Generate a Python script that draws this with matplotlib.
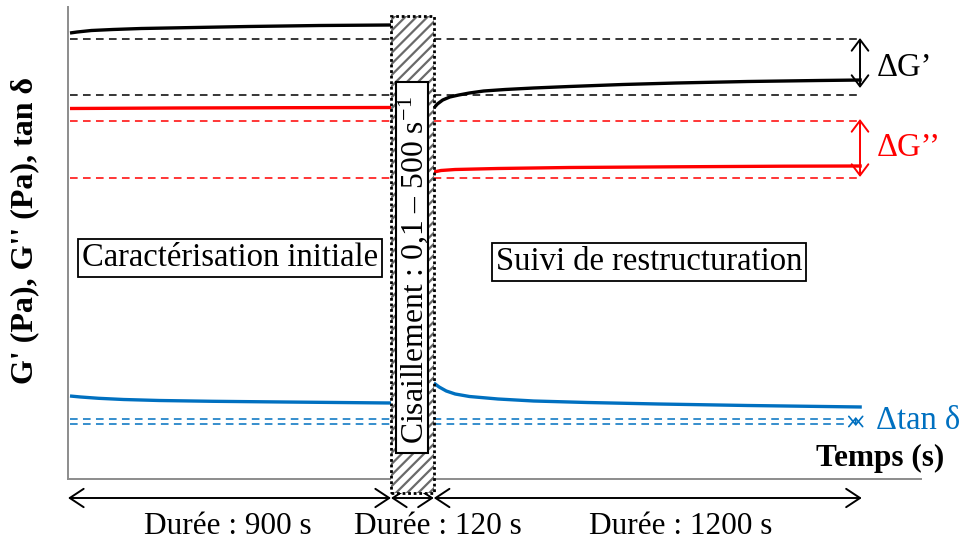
import matplotlib
matplotlib.use("Agg")
import matplotlib.pyplot as plt
from matplotlib.patches import Rectangle

plt.rcParams['font.family'] = ['Liberation Serif', 'DejaVu Serif']
plt.rcParams['mathtext.fontset'] = 'custom'
plt.rcParams['mathtext.rm'] = 'Liberation Serif'
plt.rcParams['mathtext.default'] = 'regular'
plt.rcParams['hatch.linewidth'] = 1.6

# ---- phases (s) ----
phase_bounds = [0, 900, 1020, 2220]
phase_labels = ["Durée : 900 s", "Durée : 120 s", "Durée : 1200 s"]

# ---- schematic curves (arbitrary units) ----
t_g1_init = [0, 20, 60, 120, 200, 350, 500, 700, 900]
g1_init = [446, 447, 448.5, 449.5, 450.5, 451.5, 452.5, 453.5, 454]
t_g1_rec = [1020, 1030, 1045, 1065, 1090, 1120, 1160, 1220, 1300, 1400, 1550, 1700, 1900, 2100, 2220]
g1_rec = [371, 375, 379, 382, 384, 386, 388, 389.5, 391, 392.5, 394.5, 396, 397.5, 398.5, 399]

t_g2_init = [0, 300, 600, 900]
g2_init = [370.5, 371, 371.3, 371.5]
t_g2_rec = [1020, 1040, 1080, 1200, 1400, 1700, 2000, 2220]
g2_rec = [307, 308.5, 309.5, 310.5, 311.5, 312.2, 312.8, 313]

t_tan_init = [0, 30, 80, 150, 250, 400, 600, 900]
tan_init = [83, 82, 80.7, 79.5, 78.5, 77.7, 77, 76]
t_tan_rec = [1020, 1035, 1055, 1080, 1120, 1200, 1300, 1450, 1650, 1900, 2220]
tan_rec = [96, 92, 88, 85, 82.5, 80, 78, 76.5, 75, 73.5, 72]

# reference (dashed) levels
g1_levels = [440, 384]
g2_levels = [358, 301]
tan_levels = [60, 55]

C_G1 = 'black'
C_G2 = '#FF0000'
C_TAN = '#0070C0'
FS = 23.5

fig = plt.figure(figsize=(9.64, 5.43), dpi=100)
ax = fig.add_axes([68/964, 64/543, 853/964, 472/543])
ax.set_xlim(-5.6, 2386)
ax.set_ylim(0, 472)
for s in ['top', 'right']:
    ax.spines[s].set_visible(False)
for s in ['left', 'bottom']:
    ax.spines[s].set_color('#8c8c8c')
    ax.spines[s].set_linewidth(1.4)
ax.set_xticks([])
ax.set_yticks([])
ax.patch.set_alpha(0)

t_end = phase_bounds[-1]
dash = (0, (5, 3.5))
for lv in g1_levels:
    ax.plot([0, t_end], [lv, lv], color=C_G1, lw=1.1, linestyle=dash, zorder=1)
for lv in g2_levels:
    ax.plot([0, t_end], [lv, lv], color=C_G2, lw=1.1, linestyle=dash, zorder=1)
for lv in tan_levels:
    ax.plot([0, t_end - 35], [lv, lv], color=C_TAN, lw=1.1, linestyle=dash, zorder=1)

lw = 2.4
ax.plot(t_g1_init, g1_init, color=C_G1, lw=lw, solid_capstyle='butt', zorder=2)
ax.plot(t_g1_rec, g1_rec, color=C_G1, lw=lw, solid_capstyle='butt', zorder=2)
ax.plot(t_g2_init, g2_init, color=C_G2, lw=lw, solid_capstyle='butt', zorder=2)
ax.plot(t_g2_rec, g2_rec, color=C_G2, lw=lw, solid_capstyle='butt', zorder=2)
ax.plot(t_tan_init, tan_init, color=C_TAN, lw=lw, solid_capstyle='butt', zorder=2)
ax.plot(t_tan_rec, tan_rec, color=C_TAN, lw=lw, solid_capstyle='butt', zorder=2)

# shear band
t0, t1 = phase_bounds[1], phase_bounds[2]
band = Rectangle((t0, -14), t1 - t0, 477, facecolor='white', edgecolor='#6a6a6a',
                 hatch='///', lw=0, clip_on=False, zorder=5)
ax.add_patch(band)
ax.add_patch(Rectangle((t0, -14), t1 - t0, 477, facecolor='none', edgecolor='black',
                       lw=2.0, linestyle=(0, (1, 1)), clip_on=False, zorder=6))
ax.add_patch(Rectangle((915, 26), 90, 371, facecolor='white', edgecolor='black',
                       lw=1.5, clip_on=False, zorder=7))
ax.text(962, 209, "Cisaillement : 0,1 – 500 s$^{-1}$", rotation=90, ha='center', va='center',
        fontsize=22.8, zorder=8)

# text boxes
bbox = dict(boxstyle='square,pad=0.12', facecolor='white', edgecolor='black', lw=1.3)
ax.text(449, 221, "Caractérisation initiale", ha='center', va='center', fontsize=FS, bbox=bbox, zorder=4)
ax.text(1623, 217, "Suivi de restructuration", ha='center', va='center', fontsize=FS, bbox=bbox, zorder=4)

# delta arrows
ap = dict(arrowstyle='<->,head_length=0.4,head_width=0.3', lw=1.4, mutation_scale=20,
          shrinkA=0, shrinkB=0)
ax.annotate('', xy=(2215, 391), xytext=(2215, 441), arrowprops=dict(ap, color=C_G1),
            annotation_clip=False)
ax.annotate('', xy=(2215, 302), xytext=(2215, 360), arrowprops=dict(ap, color=C_G2),
            annotation_clip=False)
ax.annotate('', xy=(2203, 53), xytext=(2203, 62),
            arrowprops=dict(arrowstyle='<->,head_length=0.3,head_width=0.25', lw=1.2,
                            mutation_scale=20, shrinkA=0, shrinkB=0, color=C_TAN),
            annotation_clip=False)
ax.text(2262, 411, "ΔG’", color=C_G1, fontsize=FS, ha='left', va='center')
ax.text(2262, 331, "ΔG’’", color=C_G2, fontsize=FS, ha='left', va='center')
ax.text(2260, 58, "Δtan δ", color=C_TAN, fontsize=FS, ha='left', va='center', clip_on=False)

ax.text(2271, 21, "Temps (s)", fontsize=22.5, fontweight='bold', ha='center', va='center', clip_on=False)

# bottom duration arrows
bap = dict(arrowstyle='<->,head_length=0.5,head_width=0.33', lw=1.4, mutation_scale=20,
           shrinkA=0, shrinkB=0, color='black')
starts = [-5.6, phase_bounds[1], phase_bounds[2]]
ends = [phase_bounds[1], phase_bounds[2], phase_bounds[3]]
for a, b in zip(starts, ends):
    ax.annotate('', xy=(b, -19), xytext=(a, -19), arrowprops=bap, annotation_clip=False)
label_x = [443, 1032, 1713]
for x, lab in zip(label_x, phase_labels):
    ax.text(x, -48, lab, fontsize=22.5, ha='center', va='center', clip_on=False)

fig.text(25/964, 1 - 230/543, "G' (Pa), G'' (Pa), tan δ", rotation=90, fontsize=23,
         fontweight='bold', ha='center', va='center')

fig.savefig('out.png', dpi=100)
